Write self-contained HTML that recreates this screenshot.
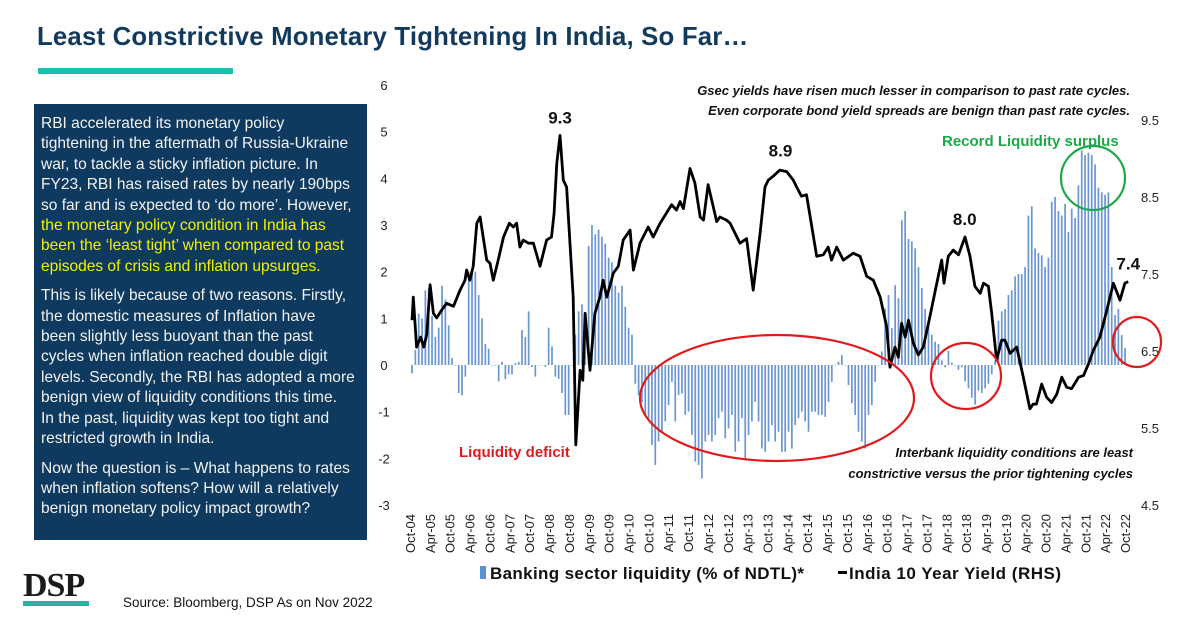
<!DOCTYPE html>
<html><head><meta charset="utf-8">
<style>
html,body{margin:0;padding:0;background:#fff;}
body{width:1200px;height:628px;position:relative;overflow:hidden;font-family:"Liberation Sans",sans-serif;}
#title{position:absolute;left:37px;top:21px;font-size:26px;font-weight:bold;color:#123a5e;white-space:nowrap;letter-spacing:0.2px;transform:scaleX(0.99);transform-origin:left top;}
#rule{position:absolute;left:38px;top:68px;width:195px;height:6px;background:#16c1ae;}
#panel{position:absolute;left:34px;top:104px;width:333px;height:436px;background:#0f3a5f;}
#ptext{position:absolute;left:7px;top:10px;color:#f2f2f2;font-size:16px;line-height:20.4px;white-space:nowrap;transform:scaleX(0.97);transform-origin:left top;}
#ptext p{margin:0 0 9px 0;}
.hl{color:#f2f200;}
#logo{position:absolute;left:23px;top:567px;font-family:"Liberation Serif",serif;font-weight:bold;font-size:34px;color:#1a1a1a;letter-spacing:-1px;}
#logobar{position:absolute;left:23px;top:601px;width:66px;height:5px;background:#2ab3a5;}
#source{position:absolute;left:123px;top:595px;font-size:13.5px;color:#111;}
svg{position:absolute;left:0;top:0;}
</style></head>
<body>
<div id="title">Least Constrictive Monetary Tightening In India, So Far…</div>
<div id="rule"></div>
<div id="panel">
<div id="ptext">
<p>RBI accelerated its monetary policy<br>tightening in the aftermath of Russia-Ukraine<br>war, to tackle a sticky inflation picture. In<br>FY23, RBI has raised rates by nearly 190bps<br>so far and is expected to ‘do more’. However,<br><span class="hl">the monetary policy condition in India has<br>been the ‘least tight’ when compared to past<br>episodes of crisis and inflation upsurges.</span></p>
<p>This is likely because of two reasons. Firstly,<br>the domestic measures of Inflation have<br>been slightly less buoyant than the past<br>cycles when inflation reached double digit<br>levels. Secondly, the RBI has adopted a more<br>benign view of liquidity conditions this time.<br>In the past, liquidity was kept too tight and<br>restricted growth in India.</p>
<p>Now the question is – What happens to rates<br>when inflation softens? How will a relatively<br>benign monetary policy impact growth?</p>
</div></div>
<div id="logo">DSP</div>
<div id="logobar"></div>
<div id="source">Source: Bloomberg, DSP As on Nov 2022</div>
<svg id="chart" width="1200" height="628"></svg>
<script>
const leftTicks=[6,5,4,3,2,1,0,-1,-2,-3];
const rightTicks=[9.5,8.5,7.5,6.5,5.5,4.5];
const xLabels=["Oct-04","Apr-05","Oct-05","Apr-06","Oct-06","Apr-07","Oct-07","Apr-08","Oct-08","Apr-09","Oct-09","Apr-10","Oct-10","Apr-11","Oct-11","Apr-12","Oct-12","Apr-13","Oct-13","Apr-14","Oct-14","Apr-15","Oct-15","Apr-16","Oct-16","Apr-17","Oct-17","Apr-18","Oct-18","Apr-19","Oct-19","Apr-20","Oct-20","Apr-21","Oct-21","Apr-22","Oct-22"];
const liquidity=[-0.18,0.32,1.1,1.0,1.6,1.65,1.05,0.6,0.8,1.7,1.4,0.85,0.15,0,-0.6,-0.65,-0.25,2.0,2.0,2.0,1.5,1.0,0.45,0.35,0,0,-0.35,0.07,-0.3,-0.2,-0.2,0.04,0.07,0.75,0.6,1.15,-0.04,-0.25,0,0,-0.04,0.8,0.4,-0.25,-0.3,-0.6,-1.07,-1.07,0,0.65,1.15,1.3,1.0,2.55,3.0,2.8,2.9,2.75,2.6,2.3,2.2,1.7,1.55,1.7,1.25,0.8,0.65,-0.4,-0.65,-0.8,
-1.07,-1.14,-1.71,-2.14,-1.64,-1.43,-1.21,-0.86,-0.36,-1.21,-0.64,-0.61,-1.07,-1.0,-1.5,-2.07,-2.14,-2.43,-1.64,-1.5,-1.64,-1.5,-1.14,-1.0,-1.57,-1.36,-1.07,-1.86,-1.64,-1.14,-2.0,-1.5,-1.21,-0.79,-1.21,-1.79,-1.86,-1.64,-1.29,-1.64,-1.43,-1.86,-1.86,-1.43,-1.79,-1.29,-1.14,-1.0,-1.21,-1.43,-1.0,-1.0,-1.07,-1.07,-1.11,-0.79,-0.36,0,0.07,0.21,0,-0.43,-0.82,-1.07,-1.43,-1.64,-1.79,-1.07,-0.86,-0.36,0,0.29,1.21,1.5,0.79,1.71,1.43,
3.1,3.3,2.7,2.65,2.5,2.1,1.65,1.2,0.95,0.65,0.5,0.45,0.1,-0.05,0.3,0.05,0,-0.1,-0.05,-0.35,-0.5,-0.7,-0.85,-0.55,-0.6,-0.5,-0.4,-0.2,0.1,0.95,1.15,1.2,1.5,1.6,1.9,1.95,1.95,2.1,3.2,3.4,2.5,2.4,2.35,2.1,2.3,3.5,3.6,3.3,3.2,3.45,2.85,3.35,3.15,3.85,4.6,4.5,4.55,4.5,4.3,3.8,3.7,3.65,3.7,2.1,1.07,1.2,0.64,0.36];
const yieldMonths=[0,0.4,1.4,2.6,3.6,4.5,5.5,6.5,7.5,9,10.5,12.6,14.6,16.1,16.6,17.6,18.6,19.7,20.7,22.7,23.7,24.7,26.2,27.8,29.6,30.8,31.8,32.8,33.8,35.4,36.9,38.9,40.9,42.4,43.2,44,45,46,47,49,49.8,51.1,51.9,52.6,54.1,55.6,57.1,58.1,59.2,61.2,62.7,64.2,66.3,67.3,69.3,71.8,73.3,75.4,78.9,80.4,81.5,82.5,84.5,86,87.6,88.6,90,91.1,92.6,93.6,95.6,96.7,99.7,101.7,103.7,105.8,107.3,108.3,109.8,111.8,113.9,115.9,116.9,118.4,119.9,123,125,126.5,127.5,129.1,131.1,134.1,136.2,138.2,140.2,142.3,144.3,145.3,146.8,147.8,148.8,149.9,150.9,152.4,153.9,155.4,157.4,159.5,161,161.7,163,164.5,166.1,168.1,169.6,171.1,172.7,173.7,175.2,176.2,177.7,179.2,180.2,181.8,183.8,185.8,187.8,188.8,189.8,191.4,192.9,194.4,196,197.5,199,200.5,202.6,204.1,205.6,207.1,209.1,211.2,213.2,215.2,216.7,217.7];
const yieldValues=[6.9,7.2,6.55,6.68,6.55,6.72,7.36,6.99,6.93,7.03,7.12,7.08,7.29,7.42,7.55,7.42,7.6,8.16,8.24,7.68,7.64,7.42,7.68,7.98,8.16,8.11,8.16,7.85,7.94,7.9,7.9,7.6,7.94,7.98,8.29,8.94,9.3,8.72,8.63,7.2,5.28,6.25,6.12,6.99,6.25,6.99,7.2,7.42,7.2,7.51,7.6,7.94,8.07,7.55,7.9,8.11,7.98,8.16,8.4,8.33,8.44,8.35,8.87,8.68,8.24,8.2,8.66,8.46,8.18,8.24,8.2,8.16,7.9,7.96,7.29,8.03,8.63,8.72,8.77,8.85,8.83,8.72,8.63,8.51,8.53,7.73,7.75,7.85,7.68,7.85,7.68,7.77,7.73,7.47,7.42,7.2,6.81,6.29,6.55,6.42,6.86,6.68,6.9,6.6,6.45,6.55,6.94,7.38,7.68,7.38,7.73,7.81,7.75,7.98,7.73,7.34,7.25,7.38,7.34,6.99,6.38,6.64,6.64,6.47,6.55,6.16,5.75,5.81,5.81,6.07,5.9,5.83,5.94,6.16,6.03,6.01,6.16,6.18,6.33,6.51,6.68,7.03,7.38,7.16,7.38,7.4];
const peakLabels=["9.3","8.9","8.0","7.4"];
const peakMonths=[45,112,168,217.7];
const peakValues=[9.3,8.87,7.98,7.4];

const NS="http://www.w3.org/2000/svg";
const svg=document.getElementById('chart');
const yL=v=>365-(v*46.67);
const yR=v=>120+(9.5-v)*77;
const xLine=m=>412+m*3.29;
const xBar=i=>412+i*(713/(liquidity.length-1));
const xLab=i=>411+i*((1126-411)/(xLabels.length-1));
function mk(tag,attrs){const e=document.createElementNS(NS,tag);for(const k in attrs)e.setAttribute(k,attrs[k]);svg.appendChild(e);return e;}

leftTicks.forEach(t=>{const e=mk('text',{x:384,y:yL(t)+5,'text-anchor':'middle','font-size':'13','fill':'#222'});e.textContent=t;

});
rightTicks.forEach(t=>{const e=mk('text',{x:1150,y:yR(t)+5,'text-anchor':'middle','font-size':'13','fill':'#222'});e.textContent=t;

});
xLabels.forEach((l,i)=>{const x=xLab(i);const e=mk('text',{x:x+4,y:514,'text-anchor':'end','font-size':'13','fill':'#222',transform:`rotate(-90 ${x+4} 514)`});e.textContent=l;

});

liquidity.forEach((v,i)=>{const x=xBar(i);const y0=yL(0),y1=yL(v);const r=mk('rect',{x:x-0.8,y:Math.min(y0,y1),width:1.7,height:Math.max(0.5,Math.abs(y1-y0)),fill:'#6a96d2'});

});

let d='';yieldMonths.forEach((m,i)=>{d+=(i?'L':'M')+xLine(m).toFixed(1)+' '+yR(yieldValues[i]).toFixed(1);});
const p=mk('path',{d:d,fill:'none',stroke:'#000','stroke-width':'2.8','stroke-linejoin':'round'});



peakLabels.forEach((l,i)=>{const e=mk('text',{x:xLine(peakMonths[i]),y:yR(peakValues[i])-12,'text-anchor':'middle','font-size':'17','font-weight':'bold','fill':'#111'});e.textContent=l;

});

function ell(cx,cy,rx,ry,col,name){const e=mk('ellipse',{cx:cx,cy:cy,rx:rx,ry:ry,fill:'none',stroke:col,'stroke-width':'2.2'});

}
ell(777,398,137,63,'#e01b1b','deficit-ellipse');
ell(966,376,35,33,'#e01b1b','2018-ellipse');
ell(1137,342,24,25,'#e01b1b','2022-ellipse');
ell(1093,178,32,32,'#1fa84a','surplus-circle');

function txt(x,y,s,attrs,name){const e=mk('text',Object.assign({x:x,y:y},attrs));e.textContent=s;

}
const it={'text-anchor':'end','font-size':'13','font-weight':'bold','font-style':'italic','fill':'#111'};
txt(1130,95,'Gsec yields have risen much lesser in comparison to past rate cycles.',it,'annotation-gsec-1');
txt(1130,115,'Even corporate bond yield spreads are benign than past rate cycles.',it,'annotation-gsec-2');
txt(1133,457,'Interbank liquidity conditions are least',it,'annotation-interbank-1');
txt(1133,478,'constrictive versus the prior tightening cycles',it,'annotation-interbank-2');
txt(942,146,'Record Liquidity surplus',{'font-size':'15','font-weight':'bold','fill':'#1fa84a'},'record-surplus-label');
txt(459,457,'Liquidity deficit',{'font-size':'15','font-weight':'bold','fill':'#e01b1b'},'liquidity-deficit-label');

const lr=mk('rect',{x:480,y:566,width:6,height:13,fill:'#5b8fd6'});


txt(490,579,'Banking sector liquidity (% of NDTL)*',{'font-size':'17','font-weight':'bold','fill':'#111','textLength':'314'},'legend-liquidity');
const ll=mk('rect',{x:838,y:571,width:9,height:3,fill:'#000'});


txt(849,579,'India 10 Year Yield (RHS)',{'font-size':'17','font-weight':'bold','fill':'#111','textLength':'212'},'legend-yield');
</script>
</body></html>
